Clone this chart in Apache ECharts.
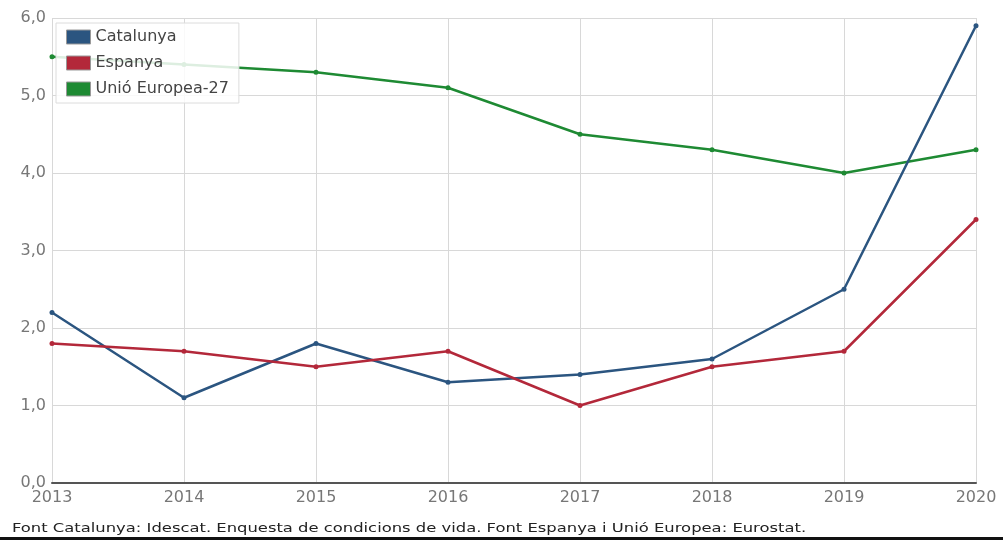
<!DOCTYPE html>
<html>
<head>
<meta charset="utf-8">
<script src="https://cdn.jsdelivr.net/npm/echarts@6/dist/echarts.min.js"></script>
<style>
html, body { margin: 0; padding: 0; background: #fff; }
#chart { width: 1003px; height: 540px; }
</style>
</head>
<body>
<div id="chart"></div>
<script>
var years = ['2013', '2014', '2015', '2016', '2017', '2018', '2019', '2020'];
var catalunya = [2.2, 1.1, 1.8, 1.3, 1.4, 1.6, 2.5, 5.9];
var espanya = [1.8, 1.7, 1.5, 1.7, 1.0, 1.5, 1.7, 3.4];
var ue27 = [5.5, 5.4, 5.3, 5.1, 4.5, 4.3, 4.0, 4.3];
var names = ['Catalunya', 'Espanya', 'Unió Europea-27'];
var colors = ['#2b5580', '#b3283a', '#1e8a33'];

var chart = echarts.init(document.getElementById('chart'));

function line(name, values, color) {
    return {
        name: name,
        type: 'line',
        data: values,
        symbol: 'circle',
        symbolSize: 5,
        color: color,
        lineStyle: { width: 2.5, color: color },
        itemStyle: { color: color },
        z: name == 'Unió Europea-27' ? 1 : 2
    };
}

var option = {
    animation: false,
    backgroundColor: '#fff',
    grid: { left: 52, right: 27, top: 18, bottom: 57 },
    legend: {
        orient: 'vertical',
        left: 56,
        top: 23,
        itemWidth: 24,
        itemHeight: 14,
        itemGap: 10,
        icon: 'rect',
        padding: [6, 10, 6, 10],
        backgroundColor: 'rgba(255,255,255,0.85)',
        borderColor: '#dcdcdc',
        borderWidth: 1,
        textStyle: { fontFamily: 'DejaVu Sans', fontSize: 16, color: '#444' },
        itemStyle: { borderColor: '#999', borderWidth: 1 },
        data: names
    },
    xAxis: {
        type: 'category',
        data: years,
        boundaryGap: false,
        axisLine: { lineStyle: { color: '#555', width: 2 } },
        axisTick: { show: false },
        axisLabel: { fontFamily: 'DejaVu Sans', fontSize: 16, color: '#777', margin: 7 },
        splitLine: { show: true, lineStyle: { color: '#d8d8d8' } }
    },
    yAxis: {
        type: 'value',
        min: 0,
        max: 6,
        interval: 1,
        axisLine: { show: false },
        axisTick: { show: false },
        axisLabel: {
            fontFamily: 'DejaVu Sans', fontSize: 16, color: '#777', margin: 6,
            formatter: function (v) { return v.toFixed(1).replace('.', ','); }
        },
        splitLine: { lineStyle: { color: '#d8d8d8' } }
    },
    graphic: [
        {
            type: 'text',
            left: 12,
            top: 522,
            scaleX: 1.26,
            style: {
                text: 'Font Catalunya: Idescat. Enquesta de condicions de vida. Font Espanya i Unió Europea: Eurostat.',
                font: '13px "DejaVu Sans"',
                fill: '#222'
            }
        },
        {
            type: 'rect',
            left: 0,
            top: 537,
            shape: { width: 1003, height: 3 },
            style: { fill: '#111' }
        }
    ],
    series: [
        line(names[2], ue27, colors[2]),
        line(names[0], catalunya, colors[0]),
        line(names[1], espanya, colors[1])
    ]
};

chart.setOption(option);
window.addEventListener('resize', function () {
    chart.resize();
});
</script>
</body>
</html>
